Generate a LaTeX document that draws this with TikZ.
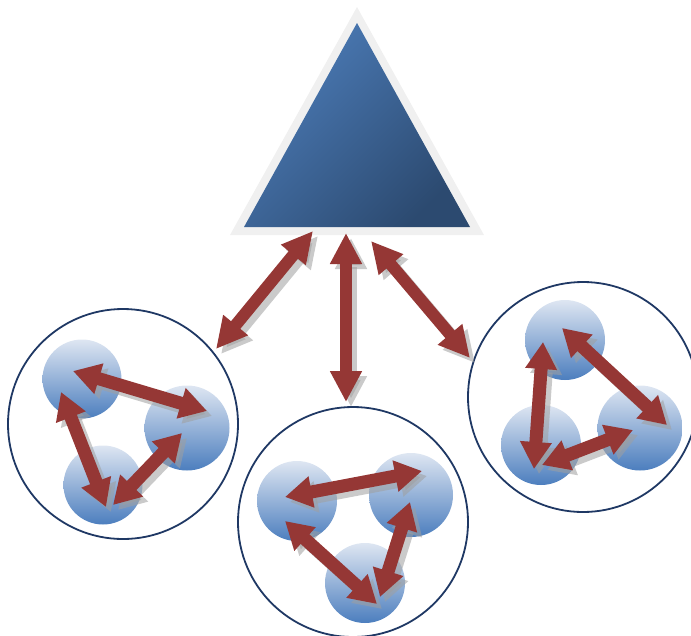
\documentclass[tikz,border=0pt]{standalone}
\usetikzlibrary{arrows.meta}
\definecolor{linkred}{RGB}{149,55,53}
\definecolor{ringnavy}{RGB}{31,56,100}
\definecolor{hubtop}{RGB}{76,124,184}
\definecolor{hubbot}{RGB}{44,74,112}
\definecolor{balltop}{RGB}{222,230,242}
\definecolor{ballbot}{RGB}{76,126,190}

\begin{document}
\begin{tikzpicture}[x=1pt,y=-1pt,
  ring/.style={circle,draw=ringnavy,line width=1.8pt,minimum size=230pt,inner sep=0pt},
  ball/.style={circle,top color=balltop,bottom color=ballbot,inner sep=0pt},
  hublink/.style={line width=12pt,{Triangle[length=31pt,width=30pt]}-{Triangle[length=31pt,width=30pt]}},
  sublink/.style={line width=13pt,{Triangle[length=27pt,width=30pt]}-{Triangle[length=27pt,width=30pt]}},
  shadowlink/.style={gray!75,opacity=0.55}]
\useasboundingbox (0,0) rectangle (691,635);
\clip (0,0) rectangle (691,635);
\def\sh{5}   % shadow offset
% hub triangle
\coordinate (hubapex) at (357,7);
\fill[black!6] (hubapex) -- (484,235) -- (230,235) -- cycle;
\shade[top color=hubtop,bottom color=hubbot,shading angle=45]
  (357,23) -- (470,227) -- (244,227) -- cycle;
% rings
\node[ring] (ringL) at (123,424) {};
\node[ring] (ringM) at (353,522) {};
\node[ring] (ringR) at (583,397) {};
% balls
\foreach \n/\x/\y/\d in {L1/82/379/79,L2/187/428/85,L3/103/485/79,
                         M1/297/501/80,M2/411/495/84,M3/365/583/80,
                         R1/565/340/80,R2/640/428/85,R3/541/445/80}
  \node[ball,minimum size=\d pt] (ball\n) at (\x,\y) {};
% arrow ends
\coordinate (hubL) at (313,231); \coordinate (inL) at (216,349);
\coordinate (hubM) at (346,233); \coordinate (inM) at (346,402);
\coordinate (hubR) at (371,241); \coordinate (inR) at (470,358);
\coordinate (L12a) at (73,371);  \coordinate (L12b) at (207,411);
\coordinate (L13a) at (61,392);  \coordinate (L13b) at (106,507);
\coordinate (L23a) at (182,433); \coordinate (L23b) at (113,505);
\coordinate (M12a) at (285,497); \coordinate (M12b) at (422,471);
\coordinate (M13a) at (285,521); \coordinate (M13b) at (377,604);
\coordinate (M23a) at (410,502); \coordinate (M23b) at (380,597);
\coordinate (R12a) at (562,328); \coordinate (R12b) at (667,425);
\coordinate (R13a) at (543,342); \coordinate (R13b) at (534,469);
\coordinate (R23a) at (633,430); \coordinate (R23b) at (542,465);
% hub links
\foreach \a/\b in {hubL/inL,hubM/inM,hubR/inR}{
  \draw[hublink,shadowlink] ([shift={(\sh,\sh)}]\a) -- ([shift={(\sh,\sh)}]\b);
  \draw[hublink,linkred] (\a) -- (\b);
}
% links inside the rings
\foreach \p in {L12,L13,L23,M12,M13,M23,R12,R13,R23}{
  \draw[sublink,shadowlink] ([shift={(\sh,\sh)}]\p a) -- ([shift={(\sh,\sh)}]\p b);
  \draw[sublink,linkred] (\p a) -- (\p b);
}
\end{tikzpicture}
\end{document}
